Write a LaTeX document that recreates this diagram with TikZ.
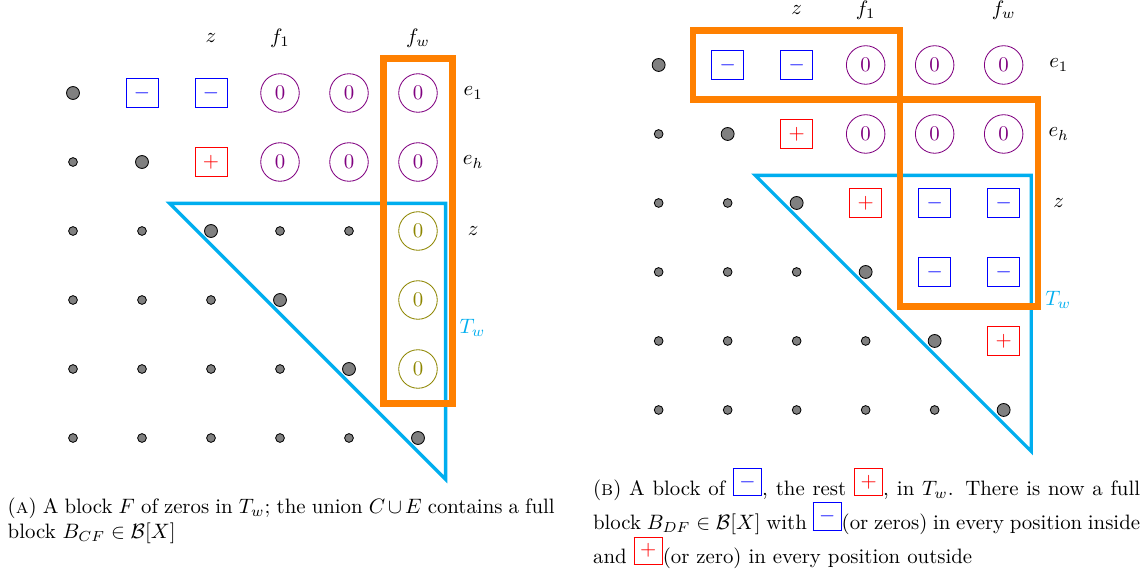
\documentclass[tikz,border=0pt]{standalone}
\usepackage{amsmath}
\usepackage{tikz}
\usetikzlibrary{positioning}
\definecolor{twcyan}{RGB}{0,174,239}
\newcommand{\negbox}{{\setlength{\fboxsep}{0pt}\setlength{\fboxrule}{0.4pt}\fcolorbox{blue}{white}{\makebox[13.2pt]{\rule{0pt}{12.6pt}\raisebox{3.8pt}{\color{blue}$-$}}}}}
\newcommand{\posbox}{{\setlength{\fboxsep}{0pt}\setlength{\fboxrule}{0.4pt}\fcolorbox{red}{white}{\makebox[13.2pt]{\rule{0pt}{12.6pt}\raisebox{3.8pt}{\color{red}$+$}}}}}

\begin{document}
\begin{tikzpicture}[x=1.1642cm,y=1.1642cm,on grid,node distance=9.3mm,
		smalldot/.style={circle,draw=black,fill=gray,inner sep=0pt,minimum size=4.2pt},
		bigdot/.style={smalldot,minimum size=6.2pt},
		zerocell/.style={circle,draw=violet,text=violet,inner sep=0pt,minimum size=18.5pt},
		ozerocell/.style={zerocell,draw=olive,text=olive},
		negcell/.style={rectangle,draw=blue,text=blue,inner sep=0pt,minimum width=15.4pt,minimum height=14pt},
		poscell/.style={negcell,draw=red,text=red},
		tw/.style={draw=twcyan,line width=1.6pt},
		blk/.style={draw=orange,line width=3.1pt},
		capt/.style={anchor=north west,inner sep=0pt,text width=262.6pt,align=justify}]
		\useasboundingbox (-1.058,1.348) rectangle (15.580,-7.014);
		
		% (a) zeros in the last column
		\draw[tw] (1.4,-1.6) -- (5.4,-1.6) -- (5.4,-5.6) -- cycle;
		\draw[blk] (4.5,0.5) rectangle (5.5,-4.5);
		\foreach \i in {0,...,5} \node[bigdot] (l\i\i) at (\i,-\i) {};
		\foreach \i in {1,...,5} {
			\pgfmathtruncatemacro\k{\i-1}
			\foreach \j in {0,...,\k} \node[smalldot] (l\i\j) at (\j,-\i) {};
		}
		\node[negcell]   (l01) at (1,0)  {$-$};
		\node[negcell]   (l02) at (2,0)  {$-$};
		\node[zerocell]  (l03) at (3,0)  {$0$};
		\node[zerocell]  (l04) at (4,0)  {$0$};
		\node[zerocell]  (l05) at (5,0)  {$0$};
		\node[poscell]   (l12) at (2,-1) {$+$};
		\node[zerocell]  (l13) at (3,-1) {$0$};
		\node[zerocell]  (l14) at (4,-1) {$0$};
		\node[zerocell]  (l15) at (5,-1) {$0$};
		\node[smalldot]  (l23) at (3,-2) {};
		\node[smalldot]  (l24) at (4,-2) {};
		\node[ozerocell] (l25) at (5,-2) {$0$};
		\node[ozerocell] (l35) at (5,-3) {$0$};
		\node[ozerocell] (l45) at (5,-4) {$0$};
		
		\node (lz)  [above=of l02] {$z$};
		\node (lf1) [above=of l03] {$f_1$};
		\node (lfw) [above=of l05] {$f_w$};
		\node (le1) [right=of l05] {$e_1$};
		\node (leh) [right=of l15] {$e_h$};
		\node (lzr) [right=of l25] {$z$};
		\node[text=twcyan] (ltw) at (5.79,-3.4) {$T_w$};
		
		% (b) a block of minus signs
		\begin{scope}[shift={(8.488,0.406)}]
		\draw[tw] (1.4,-1.6) -- (5.4,-1.6) -- (5.4,-5.6) -- cycle;
		\draw[blk] (0.5,0.5) rectangle (3.5,-0.5);
		\draw[blk] (3.5,-0.5) rectangle (5.5,-3.5);
		\foreach \i in {0,...,5} \node[bigdot] (r\i\i) at (\i,-\i) {};
		\foreach \i in {1,...,5} {
			\pgfmathtruncatemacro\k{\i-1}
			\foreach \j in {0,...,\k} \node[smalldot] (r\i\j) at (\j,-\i) {};
		}
		\node[negcell]  (r01) at (1,0)  {$-$};
		\node[negcell]  (r02) at (2,0)  {$-$};
		\node[zerocell] (r03) at (3,0)  {$0$};
		\node[zerocell] (r04) at (4,0)  {$0$};
		\node[zerocell] (r05) at (5,0)  {$0$};
		\node[poscell]  (r12) at (2,-1) {$+$};
		\node[zerocell] (r13) at (3,-1) {$0$};
		\node[zerocell] (r14) at (4,-1) {$0$};
		\node[zerocell] (r15) at (5,-1) {$0$};
		\node[poscell]  (r23) at (3,-2) {$+$};
		\node[negcell]  (r24) at (4,-2) {$-$};
		\node[negcell]  (r25) at (5,-2) {$-$};
		\node[negcell]  (r34) at (4,-3) {$-$};
		\node[negcell]  (r35) at (5,-3) {$-$};
		\node[poscell]  (r45) at (5,-4) {$+$};
		
		\node (rz)  [above=of r02] {$z$};
		\node (rf1) [above=of r03] {$f_1$};
		\node (rfw) [above=of r05] {$f_w$};
		\node (re1) [right=of r05] {$e_1$};
		\node (reh) [right=of r15] {$e_h$};
		\node (rzr) [right=of r25] {$z$};
		\node[text=twcyan] (rtw) at (5.79,-3.4) {$T_w$};
		\end{scope}
		
		\node[capt] (capa) at (-0.952,-5.865) {(\textsc{a}) A block $F$ of zeros in $T_w$; the union $C\cup E$ contains a full block $B_{CF}\in\mathcal{B}[X]$};
		\node[capt] (capb) at (7.532,-5.43) {(\textsc{b}) A block of \negbox, the rest \posbox, in $T_w$. There is now a full block $B_{DF}\in\mathcal{B}[X]$ with \negbox(or zeros) in every position inside and \posbox(or zero) in every position outside};
\end{tikzpicture}
\end{document}
